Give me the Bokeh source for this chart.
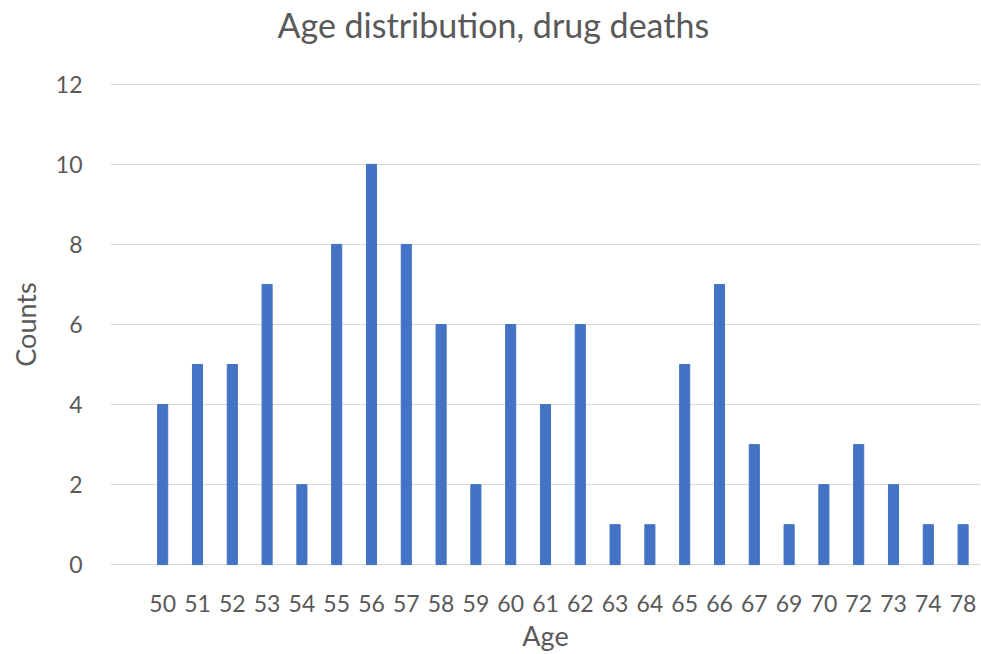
from bokeh.plotting import figure
from bokeh.models import Range1d, FixedTicker, ColumnDataSource, Title
from bokeh.embed import file_html
from bokeh.resources import INLINE

ages = ["50", "51", "52", "53", "54", "55", "56", "57", "58", "59", "60", "61",
        "62", "63", "64", "65", "66", "67", "69", "70", "72", "73", "74", "78"]
counts = [4, 5, 5, 7, 2, 8, 10, 8, 6, 2, 6, 4, 6, 1, 1, 5, 7, 3, 1, 2, 3, 2, 1, 1]
y_ticks = [0, 2, 4, 6, 8, 10, 12]

FONT = "Lato"
GREY = "#595959"

idx = list(range(len(ages)))
src = ColumnDataSource(dict(x=idx, top=counts))

p = figure(width=981, height=654, output_backend="svg", toolbar_location=None,
           x_range=Range1d(-1.5, len(ages) - 0.5), y_range=Range1d(-0.02, 12.02),
           min_border_left=110, min_border_right=1, min_border_top=83,
           min_border_bottom=89)
p.outline_line_color = None
p.background_fill_color = "white"
p.border_fill_color = "white"

p.vbar(x="x", top="top", bottom=0, width=0.29, source=src, color="#4472C4")

p.xgrid.grid_line_color = None
p.ygrid.grid_line_color = "#d9d9d9"
p.ygrid.grid_line_width = 1
p.ygrid.ticker = FixedTicker(ticks=y_ticks)

p.xaxis.ticker = FixedTicker(ticks=idx)
p.xaxis.major_label_overrides = {i: a for i, a in enumerate(ages)}
p.yaxis.ticker = FixedTicker(ticks=y_ticks)

for ax in (p.xaxis[0], p.yaxis[0]):
    ax.axis_line_color = None
    ax.major_tick_line_color = None
    ax.minor_tick_line_color = None
    ax.major_tick_out = 0
    ax.major_tick_in = 0
    ax.major_label_text_font = FONT
    ax.major_label_text_font_size = "23px"
    ax.major_label_text_color = GREY
    ax.axis_label_text_font = FONT
    ax.axis_label_text_font_size = "27px"
    ax.axis_label_text_color = GREY
    ax.axis_label_text_font_style = "normal"

p.xaxis.axis_label = "Age"
p.yaxis.axis_label = "Counts"
p.xaxis.major_label_standoff = 29
p.yaxis.major_label_standoff = 28
p.xaxis.axis_label_standoff = 4
p.yaxis.axis_label_standoff = 11

# spacer panel between the title and the frame
spacer = Title(text=" ", text_font_size="1px", standoff=34)
p.add_layout(spacer, "above")

title = Title(text="Age distribution, drug deaths", align="left", offset=167,
              text_font=FONT, text_font_size="34px", text_color=GREY,
              text_font_style="normal", vertical_align="top", standoff=0)
p.add_layout(title, "above")

open("out.html", "w").write(file_html(p, INLINE))
